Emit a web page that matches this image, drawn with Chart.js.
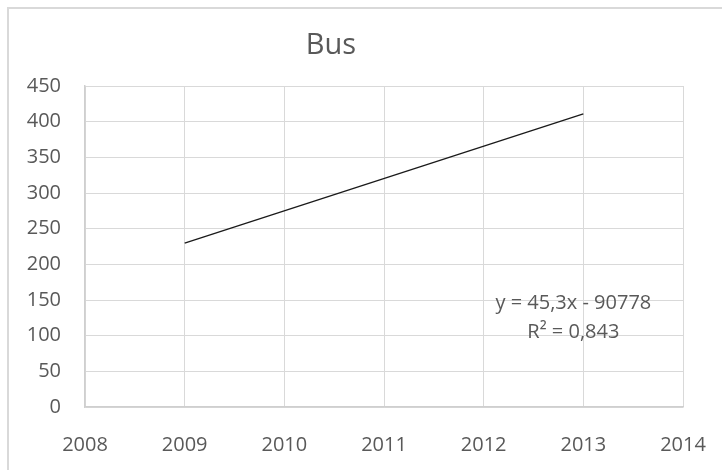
<!DOCTYPE html>
<html>
<head>
<meta charset="utf-8">
<script src="https://cdn.jsdelivr.net/npm/chart.js@4/dist/chart.umd.min.js"></script>
<style>
  html, body { margin: 0; padding: 0; background: #fff; overflow: hidden; }
  #wrap { position: relative; width: 722px; height: 470px; }
  #frame { position: absolute; left: 7px; top: 7px; width: 800px; height: 600px;
           border-left: 2px solid #d9d9d9; border-top: 2px solid #d9d9d9; }
  canvas { position: absolute; left: 0; top: 0; }
</style>
</head>
<body>
<div id="wrap">
  <div id="frame"></div>
  <canvas id="myChart" width="722" height="470"></canvas>
</div>
<script>
// values
const chartTitle = 'Bus';
const years = [2009, 2013];
const busTrend = [229.7, 410.9];
const equationLines = ['y = 45,3x - 90778', 'R\u00b2 = 0,843'];

const textColor = '#595959';
const gridColor = '#d9d9d9';

// title (sits a bit left of centre, like the original) and trendline label
const textLabels = {
    id: 'textLabels',
    afterDatasetsDraw(chart) {
        const ctx = chart.ctx;
        ctx.save();
        ctx.fillStyle = textColor;
        ctx.textAlign = 'center';
        ctx.textBaseline = 'middle';

        ctx.font = '29px "Open Sans"';
        ctx.fillText(chartTitle, 331, 46);

        const x = chart.scales.x.getPixelForValue(2012.9);
        ctx.font = '20px "Open Sans"';
        ctx.fillText(equationLines[0], x, chart.scales.y.getPixelForValue(146));
        ctx.fillText(equationLines[1], x, chart.scales.y.getPixelForValue(105));
        ctx.restore();
    }
};

const ctx = document.getElementById('myChart');

new Chart(ctx, {
    type: 'scatter',
    data: {
        datasets: [{
            label: 'Bus',
            data: years.map((y, i) => ({ x: y, y: busTrend[i] })),
            showLine: true,
            borderColor: '#1a1a1a',
            borderWidth: 1.3,
            pointRadius: 0,
            pointHoverRadius: 0,
            fill: false
        }]
    },
    options: {
        responsive: false,
        animation: false,
        layout: { padding: { left: 0, right: 39, top: 86, bottom: 0 } },
        plugins: {
            legend: { display: false },
            tooltip: { enabled: false },
            title: { display: false }
        },
        scales: {
            x: {
                type: 'linear',
                min: 2008,
                max: 2014,
                afterFit(scale) {
                    scale.height = 63;
                    scale.paddingLeft = 0;
                    scale.paddingRight = 0;
                },
                ticks: {
                    stepSize: 1,
                    color: textColor,
                    font: { family: '"Open Sans"', size: 20 },
                    padding: 26,
                    maxRotation: 0,
                    callback: v => String(v)
                },
                grid: { color: gridColor, drawTicks: false },
                border: { color: '#cfcfcf', width: 1.5 }
            },
            y: {
                min: 0,
                max: 450,
                afterFit(scale) { scale.width = 85; },
                ticks: {
                    stepSize: 50,
                    color: textColor,
                    font: { family: '"Open Sans"', size: 20 },
                    padding: 24
                },
                grid: { color: gridColor, drawTicks: false },
                border: { color: '#cfcfcf', width: 1.5 }
            }
        }
    },
    plugins: [textLabels]
});
</script>
</body>
</html>
